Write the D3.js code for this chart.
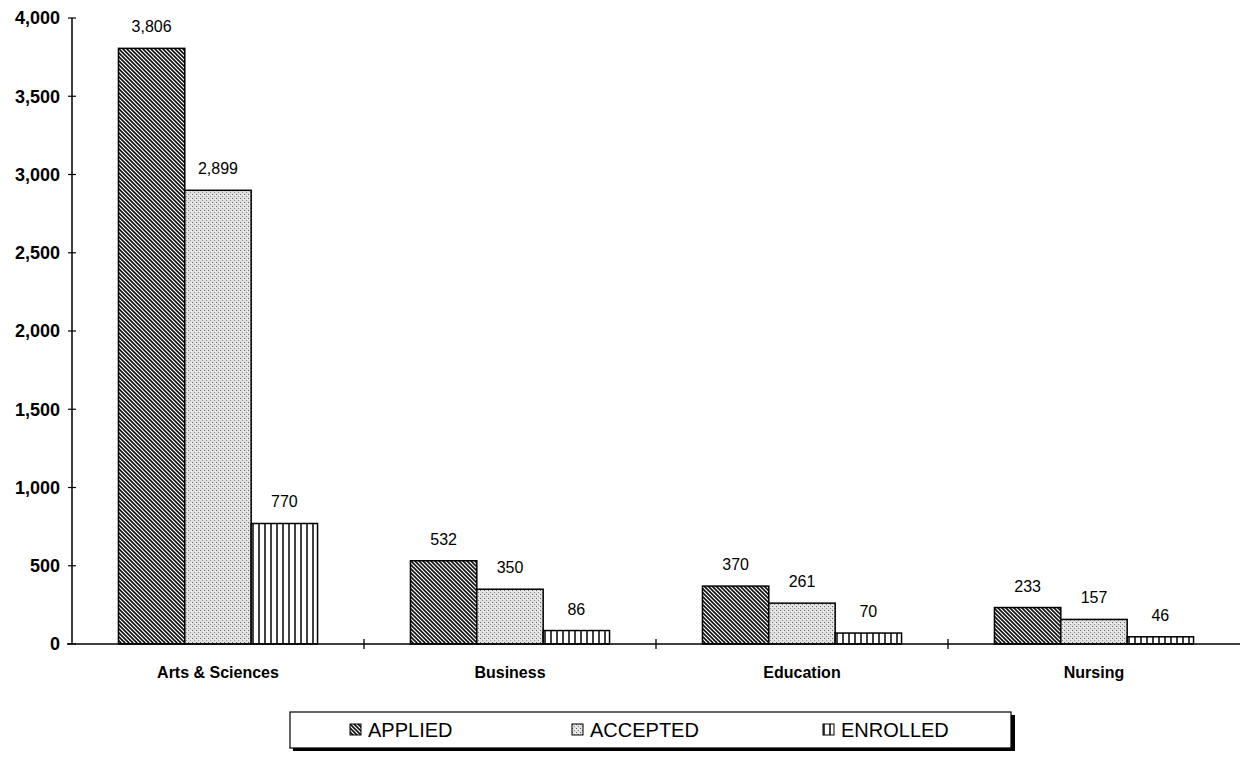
<!DOCTYPE html>
<html>
<head>
<meta charset="utf-8">
<script src="https://cdn.jsdelivr.net/npm/d3@7"></script>
<style>
  body { margin: 0; background: #fff; }
  svg { display: block; font-family: "Liberation Sans", Arial, sans-serif; }
</style>
</head>
<body>
<div id="chart"></div>
<script>
// data
var categories = ["Arts & Sciences", "Business", "Education", "Nursing"];
var seriesNames = ["APPLIED", "ACCEPTED", "ENROLLED"];
var applied  = [3806, 532, 370, 233];
var accepted = [2899, 350, 261, 157];
var enrolled = [770, 86, 70, 46];
var yTicks = [0, 500, 1000, 1500, 2000, 2500, 3000, 3500, 4000];

var seriesValues = [applied, accepted, enrolled];
var patternIds = ["pat-applied", "pat-accepted", "pat-enrolled"];

var W = 1246, H = 759;
var margin = {top: 18, left: 72, right: 6, bottom: 115};
var plotW = W - margin.left - margin.right,
    plotH = H - margin.top - margin.bottom;

var svg = d3.select("#chart").append("svg")
    .attr("width", W)
    .attr("height", H);

// fill patterns
var defs = svg.append("defs");

var p1 = defs.append("pattern")
    .attr("id", "pat-applied")
    .attr("patternUnits", "userSpaceOnUse")
    .attr("width", 4).attr("height", 4);
p1.append("rect").attr("width", 4).attr("height", 4).attr("fill", "#fff");
p1.append("path")
    .attr("d", "M-1,-1 L5,5 M-1,3 L1,5 M3,-1 L5,1")
    .attr("stroke", "#111").attr("stroke-width", 1.6);

var p2 = defs.append("pattern")
    .attr("id", "pat-accepted")
    .attr("patternUnits", "userSpaceOnUse")
    .attr("width", 4).attr("height", 4);
p2.append("rect").attr("width", 4).attr("height", 4).attr("fill", "#e2e2e2");
p2.append("rect").attr("x", 0).attr("y", 0).attr("width", 1).attr("height", 1).attr("fill", "#666");
p2.append("rect").attr("x", 2).attr("y", 2).attr("width", 1).attr("height", 1).attr("fill", "#888");
p2.append("rect").attr("x", 3).attr("y", 1).attr("width", 1).attr("height", 1).attr("fill", "#f8f8f8");

var p3 = defs.append("pattern")
    .attr("id", "pat-enrolled")
    .attr("patternUnits", "userSpaceOnUse")
    .attr("width", 6).attr("height", 6);
p3.append("rect").attr("width", 6).attr("height", 6).attr("fill", "#fff");
p3.append("line")
    .attr("x1", 1).attr("x2", 1).attr("y1", 0).attr("y2", 6)
    .attr("stroke", "#111").attr("stroke-width", 1.6);

var g = svg.append("g")
    .attr("transform", "translate(" + margin.left + "," + margin.top + ")");

// scales
var x0 = d3.scaleBand().domain(categories).range([0, plotW]).padding(0);
var x1 = d3.scaleBand().domain(seriesNames).range([0, x0.bandwidth()])
    .paddingInner(0).paddingOuter(0.7);
var y = d3.scaleLinear().domain([0, 4000]).range([plotH, 0]);

var fmt = d3.format(",");

// y axis
g.append("line")
    .attr("x1", 0).attr("x2", 0).attr("y1", 0).attr("y2", plotH)
    .attr("stroke", "#000").attr("stroke-width", 1.5);

g.selectAll(".ytick").data(yTicks).enter().append("line")
    .attr("x1", -4).attr("x2", 4)
    .attr("y1", function(d) { return y(d); })
    .attr("y2", function(d) { return y(d); })
    .attr("stroke", "#000").attr("stroke-width", 1.2);

g.selectAll(".ylabel").data(yTicks).enter().append("text")
    .attr("x", -12)
    .attr("y", function(d) { return y(d); })
    .attr("dy", "0.35em")
    .attr("text-anchor", "end")
    .style("font-size", "18px")
    .style("font-weight", "bold")
    .text(function(d) { return fmt(d); });

// bars
var groups = g.selectAll(".cat").data(categories).enter().append("g")
    .attr("transform", function(d) { return "translate(" + x0(d) + ",0)"; });

groups.selectAll("rect")
    .data(function(d, i) {
      return seriesNames.map(function(s, j) { return {s: s, j: j, v: seriesValues[j][i]}; });
    })
    .enter().append("rect")
    .attr("x", function(d) { return x1(d.s); })
    .attr("y", function(d) { return y(d.v); })
    .attr("width", x1.bandwidth())
    .attr("height", function(d) { return plotH - y(d.v); })
    .attr("fill", function(d) { return "url(#" + patternIds[d.j] + ")"; })
    .attr("stroke", "#000")
    .attr("stroke-width", 1.5);

groups.selectAll(".val")
    .data(function(d, i) {
      return seriesNames.map(function(s, j) { return {s: s, v: seriesValues[j][i]}; });
    })
    .enter().append("text")
    .attr("x", function(d) { return x1(d.s) + x1.bandwidth() / 2; })
    .attr("y", function(d) { return y(d.v) - 16; })
    .attr("text-anchor", "middle")
    .style("font-size", "16px")
    .text(function(d) { return fmt(d.v); });

// x axis
g.append("line")
    .attr("x1", -5).attr("x2", plotW).attr("y1", plotH).attr("y2", plotH)
    .attr("stroke", "#000").attr("stroke-width", 1.5);

g.selectAll(".xtick").data(categories.slice(1)).enter().append("line")
    .attr("x1", function(d) { return x0(d); })
    .attr("x2", function(d) { return x0(d); })
    .attr("y1", plotH - 5).attr("y2", plotH + 5)
    .attr("stroke", "#000").attr("stroke-width", 1.3);

g.selectAll(".xlabel").data(categories).enter().append("text")
    .attr("x", function(d) { return x0(d) + x0.bandwidth() / 2; })
    .attr("y", plotH + 34)
    .attr("text-anchor", "middle")
    .style("font-size", "16px")
    .style("font-weight", "bold")
    .text(function(d) { return d; });

// legend
var legend = svg.append("g").attr("transform", "translate(290,712)");
legend.append("rect")
    .attr("x", 3).attr("y", 3).attr("width", 722).attr("height", 36)
    .attr("fill", "#000");
legend.append("rect")
    .attr("x", 0).attr("y", 0).attr("width", 721).attr("height", 36)
    .attr("fill", "#fff").attr("stroke", "#000").attr("stroke-width", 1.2);

var legendX = [60, 282, 533];
var items = legend.selectAll(".item").data(seriesNames).enter().append("g")
    .attr("transform", function(d, i) { return "translate(" + legendX[i] + ",0)"; });
items.append("rect")
    .attr("x", 0).attr("y", 12).attr("width", 11).attr("height", 11)
    .attr("fill", function(d, i) { return "url(#" + patternIds[i] + ")"; })
    .attr("stroke", "#000").attr("stroke-width", 1);
items.append("text")
    .attr("x", 18).attr("y", 25)
    .style("font-size", "20px")
    .text(function(d) { return d; });
</script>
</body>
</html>
